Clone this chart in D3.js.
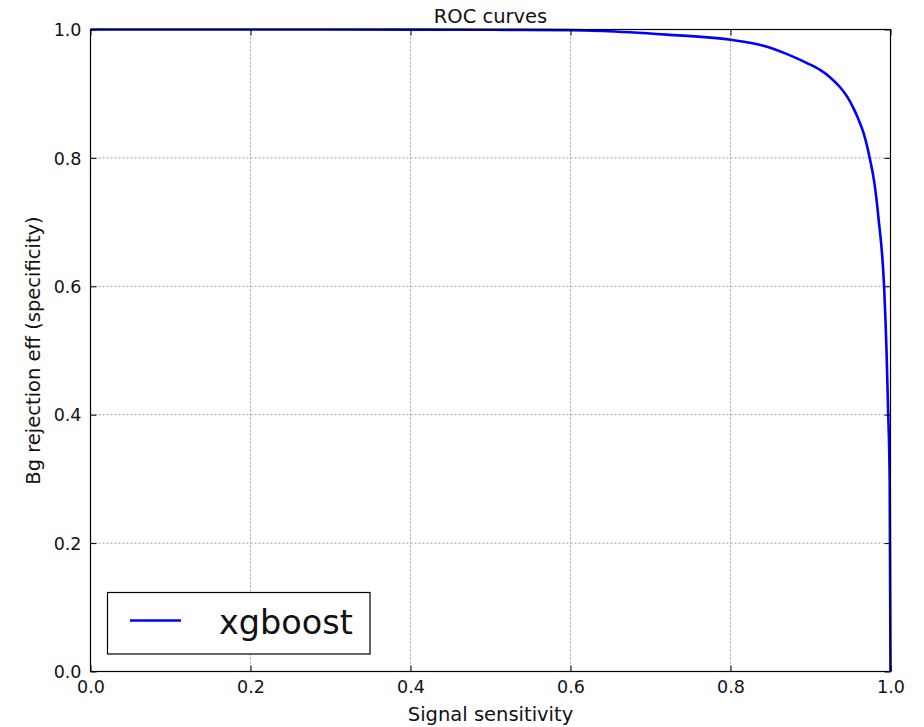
<!DOCTYPE html>
<html>
<head>
<meta charset="utf-8">
<script src="https://cdn.jsdelivr.net/npm/d3@7/dist/d3.min.js"></script>
<style>
  html, body { margin: 0; padding: 0; background: #fff; }
  svg { display: block; font-family: "DejaVu Sans", sans-serif; }
</style>
</head>
<body>
<svg id="chart" width="924" height="727"></svg>
<script>
// ROC curve for the xgboost classifier
const seriesName = "xgboost";
const sensitivity = [0, 0.1, 0.3, 0.5, 0.6, 0.64, 0.72, 0.8, 0.84, 0.87, 0.895, 0.912, 0.925, 0.937, 0.946, 0.9535, 0.96, 0.966, 0.974, 0.98, 0.985, 0.992, 0.995, 0.997, 0.999, 1.0];
const rejection   = [1, 1, 1, 0.9995, 0.999, 0.9977, 0.992, 0.984, 0.975, 0.962, 0.948, 0.937, 0.925, 0.910, 0.895, 0.878, 0.860, 0.840, 0.800, 0.760, 0.706, 0.599, 0.501, 0.407, 0.294, 0];
const tickValues = [0.0, 0.2, 0.4, 0.6, 0.8, 1.0];

const svg = d3.select("#chart");
const plotLeft = 90.5, plotRight = 890.5, plotTop = 29.5, plotBottom = 671.5;

const x = d3.scaleLinear().domain([0, 1]).range([plotLeft, plotRight]);
const y = d3.scaleLinear().domain([0, 1]).range([plotBottom, plotTop]);

// dotted grid
const grid = svg.append("g").attr("stroke", "#a0a0a0").attr("stroke-width", 1).attr("stroke-dasharray", "2,2");
tickValues.forEach(v => {
  grid.append("line").attr("x1", x(v)).attr("x2", x(v)).attr("y1", plotTop).attr("y2", plotBottom);
  grid.append("line").attr("y1", y(v)).attr("y2", y(v)).attr("x1", plotLeft).attr("x2", plotRight);
});

// curve
const pts = sensitivity.map((s, i) => [s, rejection[i]]);
const line = d3.line().x(d => x(d[0])).y(d => y(d[1])).curve(d3.curveMonotoneX);
svg.append("path").datum(pts).attr("d", line)
  .attr("fill", "none").attr("stroke", "#0000ff").attr("stroke-width", 2.6)
  .attr("stroke-linejoin", "round");

// axes: ticks pointing inward on all four sides
const fmt = d3.format(".1f");
const tickLen = 6;
const axB = svg.append("g").attr("transform", `translate(0,${plotBottom})`)
  .call(d3.axisBottom(x).tickValues(tickValues).tickFormat(fmt).tickSizeInner(-tickLen).tickSizeOuter(0).tickPadding(8));
const axT = svg.append("g").attr("transform", `translate(0,${plotTop})`)
  .call(d3.axisTop(x).tickValues(tickValues).tickFormat("").tickSizeInner(-tickLen).tickSizeOuter(0));
const axL = svg.append("g").attr("transform", `translate(${plotLeft},0)`)
  .call(d3.axisLeft(y).tickValues(tickValues).tickFormat(fmt).tickSizeInner(-tickLen).tickSizeOuter(0).tickPadding(8));
const axR = svg.append("g").attr("transform", `translate(${plotRight},0)`)
  .call(d3.axisRight(y).tickValues(tickValues).tickFormat("").tickSizeInner(-tickLen).tickSizeOuter(0));
[axB, axT, axL, axR].forEach(a => {
  a.select(".domain").remove();
  a.selectAll("line").attr("stroke", "#000");
  a.selectAll("text").attr("font-size", 17.5).attr("fill", "#111").attr("font-family", "DejaVu Sans");
});
axB.selectAll("text").attr("dy", null).attr("y", 21);
axL.selectAll("text").attr("x", -9).attr("dy", "0.35em");

// frame
svg.append("rect").attr("x", plotLeft).attr("y", plotTop).attr("width", plotRight - plotLeft).attr("height", plotBottom - plotTop)
  .attr("fill", "none").attr("stroke", "#000").attr("stroke-width", 1.2);

// title and axis labels
svg.append("text").attr("x", (plotLeft + plotRight) / 2).attr("y", 23).attr("text-anchor", "middle")
  .attr("font-size", 19.5).attr("fill", "#111").text("ROC curves");
svg.append("text").attr("x", (plotLeft + plotRight) / 2).attr("y", 721).attr("text-anchor", "middle")
  .attr("font-size", 19.5).attr("fill", "#111").text("Signal sensitivity");
svg.append("text").attr("transform", `translate(40,${(plotTop + plotBottom) / 2}) rotate(-90)`).attr("text-anchor", "middle")
  .attr("font-size", 19.5).attr("fill", "#111").text("Bg rejection eff (specificity)");

// legend
const lg = svg.append("g");
lg.append("rect").attr("x", 107.5).attr("y", 592.5).attr("width", 262.5).attr("height", 61.5)
  .attr("fill", "#fff").attr("stroke", "#000").attr("stroke-width", 1.2);
lg.append("line").attr("x1", 130).attr("x2", 181).attr("y1", 620.5).attr("y2", 620.5)
  .attr("stroke", "#0000ff").attr("stroke-width", 2.6);
lg.append("text").attr("x", 219).attr("y", 633.5).attr("font-size", 33.5).attr("fill", "#111").text(seriesName);
</script>
</body>
</html>
